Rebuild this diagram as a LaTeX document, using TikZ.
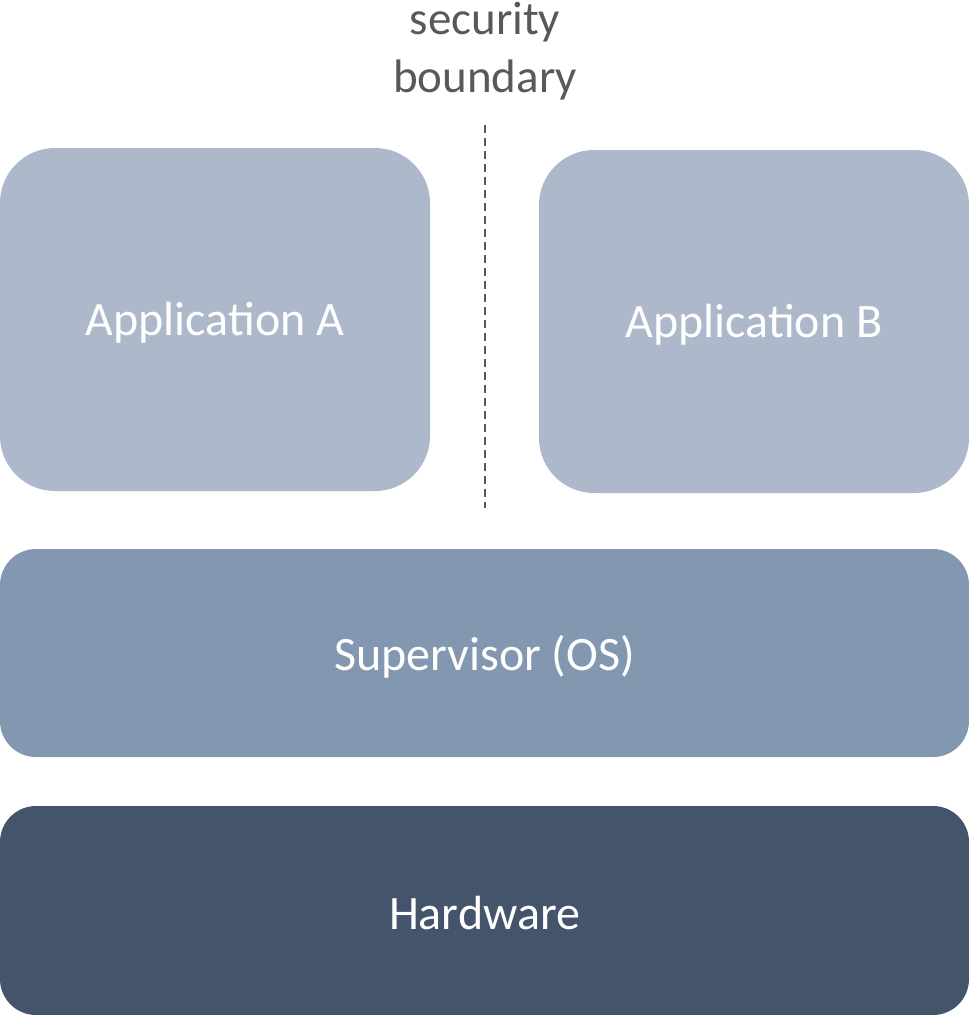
\documentclass[tikz,border=0pt]{standalone}
\usepackage{fontspec}
\setmainfont{Carlito}
\definecolor{appc}{HTML}{ADB9CA}
\definecolor{supc}{HTML}{8497B0}
\definecolor{hwc}{HTML}{44546A}
\definecolor{txtg}{HTML}{595959}
\begin{document}
\begin{tikzpicture}[x=1pt,y=-1pt,
  box/.style={draw=none,rounded corners=#1,text=white,font=\fontsize{48}{56}\selectfont},
  lbl/.style={text=txtg,font=\fontsize{47}{58}\selectfont,align=center}]
\useasboundingbox (0,0) rectangle (969,1015);
\fill[appc,rounded corners=55] (0,148) rectangle (430,491);
\node[box=0] (appA) at (215,323) {Application A};
\fill[appc,rounded corners=55] (539,150) rectangle (969,493);
\node[box=0] (appB) at (754,325) {Application B};
\fill[supc,rounded corners=36] (0,549) rectangle (969,757);
\node[box=0] (sup) at (484.5,657) {Supervisor (OS)};
\fill[hwc,rounded corners=36] (0,806) rectangle (969,1015);
\node[box=0] (hw) at (484.5,913) {Hardware};
\node[lbl] (sb) at (485,51) {security\\boundary};
\coordinate (d1) at (485,125);
\coordinate (d2) at (485,508);
\draw[txtg,line width=1.3,dash pattern=on 8 off 5] (d1) -- (d2);
\end{tikzpicture}
\end{document}
